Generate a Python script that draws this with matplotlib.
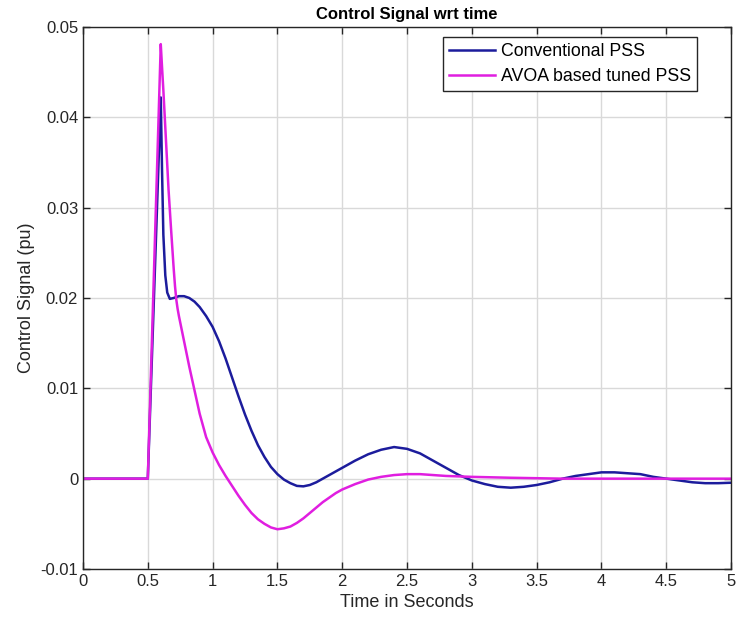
import matplotlib
matplotlib.use('Agg')
import matplotlib.pyplot as plt
import numpy as np

plt.rcParams['font.family'] = ['Liberation Sans', 'DejaVu Sans']

# conventional PSS
t_conv = [0, 0.5, 0.6, 0.61, 0.62, 0.635, 0.65, 0.67, 0.70, 0.74, 0.78, 0.82,
          0.86, 0.90, 0.95, 1.0, 1.05, 1.1, 1.15, 1.2, 1.25, 1.3, 1.35, 1.4,
          1.45, 1.5, 1.55, 1.6, 1.65, 1.7, 1.75, 1.8, 1.85, 1.9, 1.95, 2.0,
          2.1, 2.2, 2.3, 2.4, 2.5, 2.6, 2.7, 2.8, 2.9, 3.0, 3.1, 3.2, 3.3,
          3.4, 3.5, 3.6, 3.7, 3.8, 3.9, 4.0, 4.1, 4.2, 4.3, 4.4, 4.5, 4.6,
          4.7, 4.8, 4.9, 5.0]
u_conv = [0, 0, 0.0422, 0.034, 0.027, 0.0225, 0.0206, 0.0199, 0.0200, 0.0202,
          0.0202, 0.0200, 0.0196, 0.0190, 0.0180, 0.0168, 0.0152, 0.0133,
          0.0112, 0.0091, 0.0071, 0.0053, 0.0037, 0.0024, 0.0013, 0.0005,
          -0.0001, -0.0005, -0.0008, -0.00085, -0.0007, -0.0004, 0.0, 0.0004,
          0.0008, 0.0012, 0.0020, 0.0027, 0.0032, 0.0035, 0.0033, 0.0028,
          0.0020, 0.0012, 0.0004, -0.0002, -0.0006, -0.0009, -0.001, -0.0009,
          -0.0007, -0.0004, 0.0, 0.0003, 0.0005, 0.0007, 0.0007, 0.0006,
          0.0005, 0.0002, 0.0, -0.0002, -0.0004, -0.0005, -0.0005, -0.00045]

# AVOA based tuned PSS
t_avoa = [0, 0.5, 0.6, 0.61, 0.62, 0.64, 0.66, 0.68, 0.70, 0.71, 0.72, 0.73,
          0.74, 0.78, 0.82, 0.86, 0.90, 0.95, 1.0, 1.05, 1.1, 1.15, 1.2,
          1.25, 1.3, 1.35, 1.4, 1.45, 1.5, 1.55, 1.6, 1.65, 1.7, 1.75, 1.8,
          1.85, 1.9, 1.95, 2.0, 2.1, 2.2, 2.3, 2.4, 2.5, 2.6, 2.7, 2.8, 3.0,
          3.3, 3.7, 5.0]
u_avoa = [0, 0, 0.0481, 0.0455, 0.043, 0.0375, 0.032, 0.0275, 0.0232,
          0.0213, 0.0198, 0.0188, 0.0180, 0.0152, 0.0124, 0.0098, 0.0072,
          0.0046, 0.0029, 0.0015, 0.0003, -0.0008, -0.0019, -0.0029, -0.0038,
          -0.0045, -0.0050, -0.0054, -0.0056, -0.0055, -0.0053, -0.0049,
          -0.0044, -0.0038, -0.0032, -0.0026, -0.0021, -0.0016, -0.0012,
          -0.0006, -0.0001, 0.0002, 0.0004, 0.0005, 0.0005, 0.0004, 0.0003,
          0.0002, 0.0001, 0.0, 0.0]

xticks = [0, 0.5, 1, 1.5, 2, 2.5, 3, 3.5, 4, 4.5, 5]
xtick_labels = ['0', '0.5', '1', '1.5', '2', '2.5', '3', '3.5', '4', '4.5', '5']
yticks = [-0.01, 0, 0.01, 0.02, 0.03, 0.04, 0.05]
ytick_labels = ['-0.01', '0', '0.01', '0.02', '0.03', '0.04', '0.05']

fig = plt.figure(figsize=(7.37, 6.27), dpi=100)
ax = fig.add_axes([0.1126, 0.0925, 0.8794, 0.8645])

ax.plot(t_conv, u_conv, color='#1c1c9c', linewidth=1.8, label='Conventional PSS')
ax.plot(t_avoa, u_avoa, color='#e01ee0', linewidth=1.8, label='AVOA based tuned PSS')

ax.set_xlim(0, 5)
ax.set_ylim(-0.01, 0.05)
ax.set_xticks(xticks, xtick_labels)
ax.set_yticks(yticks, ytick_labels)
ax.tick_params(direction='in', top=True, right=True, length=5, width=1.0,
               labelsize=12, colors='#262626')
ax.grid(True, color='#d9d9d9', linewidth=1.0)
ax.set_axisbelow(True)
for s in ax.spines.values():
    s.set_color('#262626')
    s.set_linewidth(1.0)

ax.set_xlabel('Time in Seconds', fontsize=13, color='#262626')
ax.set_ylabel('Control Signal (pu)', fontsize=13, color='#262626')
ax.set_title('Control Signal wrt time', fontsize=12, fontweight='bold', pad=6)

leg = ax.legend(loc='upper right', bbox_to_anchor=(0.9475, 0.9815), fontsize=12.8,
                fancybox=False, framealpha=1, edgecolor='#262626',
                borderpad=0.35, labelspacing=0.45, handlelength=2.6,
                handletextpad=0.3, borderaxespad=0.0)
leg.get_frame().set_linewidth(1.0)

fig.savefig('out.png', dpi=100)
